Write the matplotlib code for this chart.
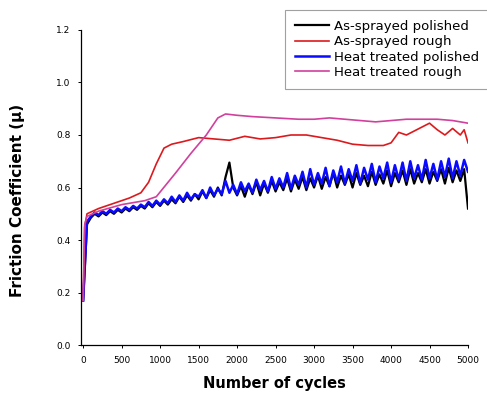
import numpy as np
import matplotlib
matplotlib.use("Agg")
import matplotlib.pyplot as plt

# Noisy polished-sample traces, sampled every 50 cycles
cycles_polished = list(range(0, 5001, 50))

as_sprayed_polished = [
    0.17, 0.46, 0.485, 0.50, 0.49, 0.505, 0.495, 0.51, 0.50, 0.515,
    0.505, 0.52, 0.51, 0.525, 0.515, 0.53, 0.52, 0.54, 0.525, 0.545,
    0.53, 0.55, 0.535, 0.555, 0.54, 0.565, 0.545, 0.57, 0.55, 0.575,
    0.555, 0.585, 0.56, 0.59, 0.565, 0.60, 0.57, 0.64, 0.695, 0.60,
    0.57, 0.605, 0.565, 0.61, 0.575, 0.62, 0.57, 0.615, 0.58, 0.625,
    0.585, 0.62, 0.59, 0.635, 0.585, 0.63, 0.595, 0.64, 0.59, 0.635,
    0.60, 0.645, 0.595, 0.64, 0.605, 0.655, 0.60, 0.645, 0.61, 0.65,
    0.60, 0.655, 0.61, 0.645, 0.605, 0.66, 0.61, 0.65, 0.615, 0.665,
    0.605, 0.655, 0.62, 0.665, 0.61, 0.67, 0.615, 0.655, 0.62, 0.67,
    0.615, 0.66, 0.625, 0.67, 0.615, 0.675, 0.62, 0.665, 0.625, 0.67,
    0.52,
]

heat_treated_polished = [
    0.17, 0.47, 0.49, 0.505, 0.495, 0.51, 0.50, 0.515, 0.505, 0.52,
    0.51, 0.525, 0.515, 0.53, 0.52, 0.535, 0.525, 0.545, 0.53, 0.55,
    0.535, 0.555, 0.54, 0.565, 0.545, 0.57, 0.55, 0.58, 0.555, 0.575,
    0.565, 0.59, 0.56, 0.60, 0.57, 0.595, 0.575, 0.625, 0.58, 0.61,
    0.575, 0.62, 0.585, 0.615, 0.58, 0.63, 0.59, 0.625, 0.585, 0.64,
    0.595, 0.635, 0.60, 0.655, 0.595, 0.645, 0.61, 0.66, 0.60, 0.67,
    0.61, 0.655, 0.615, 0.675, 0.605, 0.665, 0.62, 0.68, 0.615, 0.67,
    0.625, 0.685, 0.615, 0.675, 0.63, 0.69, 0.62, 0.68, 0.635, 0.695,
    0.62, 0.685, 0.63, 0.695, 0.625, 0.70, 0.635, 0.685, 0.63, 0.705,
    0.635, 0.69, 0.63, 0.70, 0.64, 0.71, 0.635, 0.70, 0.645, 0.705,
    0.66,
]

# Rough-sample traces
cycles_as_sprayed_rough = [
    0, 20, 50, 200, 400, 600, 750, 850, 950, 1050, 1150, 1300, 1500,
    1700, 1900, 2100, 2300, 2500, 2700, 2900, 3100, 3300, 3500, 3700,
    3900, 4000, 4100, 4200, 4300, 4400, 4500, 4600, 4700, 4800, 4900,
    4950, 5000,
]
as_sprayed_rough = [
    0.17, 0.45, 0.50, 0.52, 0.54, 0.56, 0.58, 0.62, 0.69, 0.75, 0.765,
    0.775, 0.79, 0.785, 0.78, 0.795, 0.785, 0.79, 0.80, 0.80, 0.79,
    0.78, 0.765, 0.76, 0.76, 0.77, 0.81, 0.80, 0.815, 0.83, 0.845,
    0.82, 0.80, 0.825, 0.80, 0.82, 0.77,
]

cycles_heat_treated_rough = [
    0, 20, 50, 200, 500, 800, 950, 1200, 1400, 1600, 1750, 1850, 2000,
    2200, 2500, 2800, 3000, 3200, 3400, 3600, 3800, 4000, 4200, 4400,
    4600, 4800, 5000,
]
heat_treated_rough = [
    0.17, 0.46, 0.49, 0.51, 0.535, 0.55, 0.565, 0.655, 0.73, 0.80,
    0.865, 0.88, 0.875, 0.87, 0.865, 0.86, 0.86, 0.865, 0.86, 0.855,
    0.85, 0.855, 0.86, 0.86, 0.86, 0.855, 0.845,
]

series_labels = [
    "As-sprayed polished",
    "As-sprayed rough",
    "Heat treated polished",
    "Heat treated rough",
]
x_ticks = [0, 500, 1000, 1500, 2000, 2500, 3000, 3500, 4000, 4500, 5000]
y_ticks = [0.0, 0.2, 0.4, 0.6, 0.8, 1.0, 1.2]

fig = plt.figure(figsize=(4.87, 3.99), dpi=100)
ax = fig.add_axes([0.166, 0.135, 0.795, 0.79])

ax.plot(cycles_polished, as_sprayed_polished, color="black", lw=1.6,
        label=series_labels[0], zorder=2)
ax.plot(cycles_as_sprayed_rough, as_sprayed_rough, color="#dc1a1e", lw=1.2,
        label=series_labels[1], zorder=4)
ax.plot(cycles_polished, heat_treated_polished, color="#0a0aff", lw=1.8,
        label=series_labels[2], zorder=3)
ax.plot(cycles_heat_treated_rough, heat_treated_rough, color="#d0409c", lw=1.2,
        label=series_labels[3], zorder=5)

ax.set_xlim(-30, 5000)
ax.set_ylim(0.0, 1.2)
ax.set_xticks(x_ticks)
ax.set_xticklabels([str(v) for v in x_ticks])
ax.set_yticks(y_ticks)
ax.set_yticklabels([f"{v:.1f}" for v in y_ticks])
ax.tick_params(axis="both", labelsize=6.5, length=2.5, width=0.7,
               direction="out")
ax.tick_params(axis="x", pad=5)
ax.tick_params(axis="y", pad=5)

for side in ("top", "right"):
    ax.spines[side].set_visible(False)
for side in ("left", "bottom"):
    ax.spines[side].set_linewidth(0.9)

ax.set_xlabel("Number of cycles", fontsize=10.5, fontweight="bold", labelpad=8)
ax.set_ylabel("Friction Coefficient (\u03bc)", fontsize=11, fontweight="bold")
ax.yaxis.set_label_coords(-0.145, 0.46)

leg = ax.legend(loc="upper left",
                bbox_to_anchor=(285 / 487, 0.05, (500 - 285) / 487, 1 - 10 / 399 - 0.05),
                bbox_transform=fig.transFigure, mode="expand",
                fontsize=9.5, frameon=True, fancybox=False,
                edgecolor="#888888", handlelength=2.6, handletextpad=0.4,
                labelspacing=0.18, borderpad=0.75, borderaxespad=0.0)
leg.get_frame().set_linewidth(0.8)

fig.savefig("out.png", dpi=100, facecolor="white")
